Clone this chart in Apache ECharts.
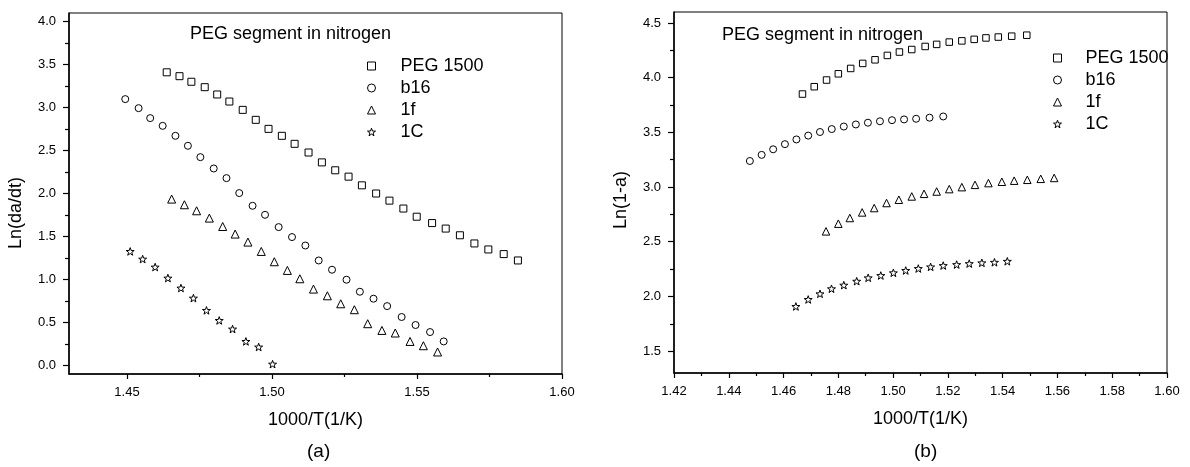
<!DOCTYPE html>
<html>
<head>
<meta charset="utf-8">
<script src="https://cdn.jsdelivr.net/npm/echarts@6/dist/echarts.min.js"></script>
<style>html,body{margin:0;padding:0;background:#fff;}#c{width:1190px;height:467px;}</style>
</head>
<body>
<div id="c"></div>
<script>
// ---- data (a): Ln(da/dt) vs 1000/T ----
const pegA = [[1.4637,3.41],[1.4681,3.365],[1.4722,3.30],[1.4768,3.237],[1.4811,3.152],[1.4853,3.07],[1.4899,2.973],[1.4944,2.857],[1.4988,2.752],[1.5034,2.671],[1.5078,2.578],[1.5126,2.477],[1.5172,2.362],[1.5218,2.27],[1.5264,2.196],[1.531,2.095],[1.5359,2.0],[1.5405,1.917],[1.5453,1.825],[1.5499,1.73],[1.5552,1.656],[1.5599,1.592],[1.5648,1.514],[1.5698,1.419],[1.5746,1.349],[1.5799,1.295],[1.5848,1.221]];
const b16A = [[1.4494,3.098],[1.454,2.993],[1.458,2.877],[1.4623,2.787],[1.4667,2.671],[1.471,2.555],[1.4753,2.423],[1.4799,2.291],[1.4843,2.179],[1.4887,2.005],[1.4933,1.857],[1.4976,1.752],[1.5023,1.609],[1.5069,1.493],[1.5115,1.395],[1.5161,1.221],[1.5207,1.113],[1.5257,0.997],[1.5303,0.857],[1.535,0.776],[1.5397,0.69],[1.5447,0.563],[1.5495,0.47],[1.5545,0.388],[1.5592,0.279]];
const f1A = [[1.4654,1.935],[1.4698,1.869],[1.474,1.799],[1.4784,1.714],[1.483,1.616],[1.4873,1.528],[1.4917,1.435],[1.4963,1.326],[1.5008,1.206],[1.5053,1.105],[1.5096,1.008],[1.5143,0.888],[1.5191,0.81],[1.5237,0.717],[1.5284,0.648],[1.533,0.485],[1.5379,0.407],[1.5425,0.377],[1.5476,0.279],[1.5522,0.229],[1.5571,0.156]];
const c1A = [[1.4511,1.326],[1.4554,1.237],[1.4597,1.144],[1.4641,1.016],[1.4686,0.9],[1.4729,0.783],[1.4774,0.64],[1.4818,0.523],[1.4864,0.423],[1.491,0.279],[1.4954,0.214],[1.5002,0.015]];

// ---- data (b): Ln(1-a) vs 1000/T ----
const pegB = [[1.4669,3.85],[1.4712,3.917],[1.4757,3.978],[1.48,4.035],[1.4845,4.084],[1.4889,4.13],[1.4934,4.163],[1.4979,4.203],[1.5023,4.234],[1.5068,4.257],[1.5117,4.285],[1.5159,4.304],[1.5205,4.325],[1.5251,4.336],[1.5296,4.35],[1.5339,4.363],[1.5384,4.371],[1.5433,4.379],[1.5488,4.388]];
const b16B = [[1.4477,3.238],[1.452,3.294],[1.4562,3.345],[1.4605,3.392],[1.4647,3.435],[1.469,3.47],[1.4733,3.503],[1.4776,3.53],[1.482,3.553],[1.4864,3.572],[1.4908,3.588],[1.4952,3.601],[1.4996,3.611],[1.504,3.618],[1.5084,3.624],[1.5133,3.634],[1.5183,3.645]];
const f1B = [[1.4755,2.595],[1.48,2.665],[1.4842,2.717],[1.4887,2.768],[1.4931,2.808],[1.4976,2.854],[1.5021,2.884],[1.5068,2.914],[1.5113,2.938],[1.5159,2.959],[1.5205,2.981],[1.5251,2.999],[1.5299,3.02],[1.5348,3.036],[1.5397,3.048],[1.5442,3.058],[1.549,3.066],[1.5539,3.075],[1.5588,3.083]];
const c1B = [[1.4645,1.908],[1.469,1.972],[1.4733,2.024],[1.4775,2.07],[1.482,2.103],[1.4867,2.139],[1.4909,2.17],[1.4955,2.191],[1.5001,2.216],[1.5046,2.237],[1.5092,2.255],[1.5137,2.27],[1.5183,2.282],[1.5232,2.291],[1.5278,2.30],[1.5324,2.307],[1.537,2.312],[1.5417,2.321]];

// ---- ticks ----
const xTicksA = [1.45,1.50,1.55,1.60];
const xMinorA = [1.475,1.525,1.575];
const yTicksA = [0,0.5,1.0,1.5,2.0,2.5,3.0,3.5,4.0];
const yMinorA = [0.25,0.75,1.25,1.75,2.25,2.75,3.25,3.75];
const xTicksB = [1.42,1.44,1.46,1.48,1.50,1.52,1.54,1.56,1.58,1.60];
const xMinorB = [1.43,1.45,1.47,1.49,1.51,1.53,1.55,1.57,1.59];
const yTicksB = [1.5,2.0,2.5,3.0,3.5,4.0,4.5];
const yMinorB = [1.75,2.25,2.75,3.25,3.75,4.25];

const names = ['PEG 1500','b16','1f','1C'];
const titleText = 'PEG segment in nitrogen';

const FONT = '"Liberation Sans", Arial, sans-serif';
const STAR = 'path://M0,-10 L2.35,-3.24 L9.51,-3.09 L3.8,1.24 L5.88,8.09 L0,4 L-5.88,8.09 L-3.8,1.24 L-9.51,-3.09 L-2.35,-3.24 Z';
const symbols = ['rect','circle','triangle',STAR];
const markStyle = {color:'#fff', borderColor:'#000', borderWidth:1, opacity:1};

function mainX(grid, min, max, ticks, dec) {
  return {type:'value', gridIndex:grid, min:min, max:max, position:'bottom',
    axisLine:{show:true, onZero:false, lineStyle:{color:'#000', width:1.5}},
    axisTick:{show:true, length:5, customValues:ticks, lineStyle:{color:'#000', width:1.2}},
    axisLabel:{customValues:ticks, margin:12, color:'#000', fontSize:13, fontFamily:FONT, formatter:v=>v.toFixed(dec)},
    splitLine:{show:false},
    name:'1000/T(1/K)', nameLocation:'middle', nameGap:37,
    nameTextStyle:{color:'#000', fontSize:18, fontFamily:FONT}};
}
function minorX(grid, min, max, ticks) {
  return {type:'value', gridIndex:grid, min:min, max:max, position:'bottom',
    axisLine:{show:false, onZero:false}, axisLabel:{show:false}, splitLine:{show:false},
    axisTick:{show:true, length:3, customValues:ticks, lineStyle:{color:'#000', width:1.2}}};
}
function mainY(grid, min, max, ticks, dec) {
  return {type:'value', gridIndex:grid, min:min, max:max, position:'left',
    axisLine:{show:true, onZero:false, lineStyle:{color:'#000', width:1.5}},
    axisTick:{show:true, length:6, customValues:ticks, lineStyle:{color:'#000', width:1.2}},
    axisLabel:{customValues:ticks, margin:13, color:'#000', fontSize:13, fontFamily:FONT, formatter:v=>v.toFixed(dec)},
    splitLine:{show:false}};
}
function minorY(grid, min, max, ticks) {
  return {type:'value', gridIndex:grid, min:min, max:max, position:'left',
    axisLine:{show:false, onZero:false}, axisLabel:{show:false}, splitLine:{show:false},
    axisTick:{show:true, length:4, customValues:ticks, lineStyle:{color:'#000', width:1.2}}};
}
function scat(name, data, sym, xi, yi, size) {
  return {type:'scatter', name:name, data:data, symbol:sym, symbolSize:size, symbolKeepAspect:true,
    xAxisIndex:xi, yAxisIndex:yi, itemStyle:markStyle,
    emphasis:{disabled:true}, animation:false};
}
function legendAt(left, top, pad) {
  return {left:left, top:top, padding:0, orient:'vertical', itemWidth:8, itemHeight:8, itemGap:4,
    selectedMode:false,
    data:names.map((n,i)=>({name:n, icon:symbols[i], itemStyle:markStyle})),
    textStyle:{color:'#000', fontSize:18, lineHeight:18, fontFamily:FONT, padding:[0,0,0,pad]}};
}

const chart = echarts.init(document.getElementById('c'), null, {renderer:'canvas'});
chart.setOption({
  animation:false,
  backgroundColor:'#fff',
  title:[
    {text:titleText, left:185, top:20, textStyle:{color:'#000', fontSize:18, fontWeight:'normal', fontFamily:FONT}},
    {text:titleText, left:717, top:21, textStyle:{color:'#000', fontSize:18, fontWeight:'normal', fontFamily:FONT}},
    {text:'(a)', left:302, top:437, textStyle:{color:'#000', fontSize:19, fontWeight:'normal', fontFamily:FONT}},
    {text:'(b)', left:909, top:437, textStyle:{color:'#000', fontSize:19, fontWeight:'normal', fontFamily:FONT}}
  ],
  legend:[legendAt(367,57,20), legendAt(1053,49,19)],
  grid:[
    {left:69, top:13, width:493, height:361, show:true, borderColor:'#000', borderWidth:1, backgroundColor:'transparent'},
    {left:674, top:12, width:493, height:361, show:true, borderColor:'#000', borderWidth:1, backgroundColor:'transparent'}
  ],
  xAxis:[
    mainX(0, 1.43, 1.60, xTicksA, 2), minorX(0, 1.43, 1.60, xMinorA),
    mainX(1, 1.42, 1.60, xTicksB, 2), minorX(1, 1.42, 1.60, xMinorB)
  ],
  yAxis:[
    mainY(0, -0.1, 4.1, yTicksA, 1), minorY(0, -0.1, 4.1, yMinorA),
    mainY(1, 1.3, 4.6, yTicksB, 1), minorY(1, 1.3, 4.6, yMinorB)
  ],
  graphic:[
    {type:'text', x:16, y:213, rotation:Math.PI/2, silent:true,
     style:{text:'Ln(da/dt)', font:'18px ' + FONT, fill:'#000', align:'center', verticalAlign:'middle', textAlign:'center', textVerticalAlign:'middle'}},
    {type:'text', x:621, y:200, rotation:Math.PI/2, silent:true,
     style:{text:'Ln(1-a)', font:'18px ' + FONT, fill:'#000', align:'center', verticalAlign:'middle', textAlign:'center', textVerticalAlign:'middle'}}
  ],
  series:[
    scat(names[0], pegA, symbols[0], 0, 0, 7),
    scat(names[1], b16A, symbols[1], 0, 0, 7),
    scat(names[2], f1A, symbols[2], 0, 0, 8),
    scat(names[3], c1A, symbols[3], 0, 0, 8),
    scat(names[0], pegB, symbols[0], 2, 2, 6.5),
    scat(names[1], b16B, symbols[1], 2, 2, 7),
    scat(names[2], f1B, symbols[2], 2, 2, 7.5),
    scat(names[3], c1B, symbols[3], 2, 2, 8)
  ]
});
</script>
</body>
</html>
